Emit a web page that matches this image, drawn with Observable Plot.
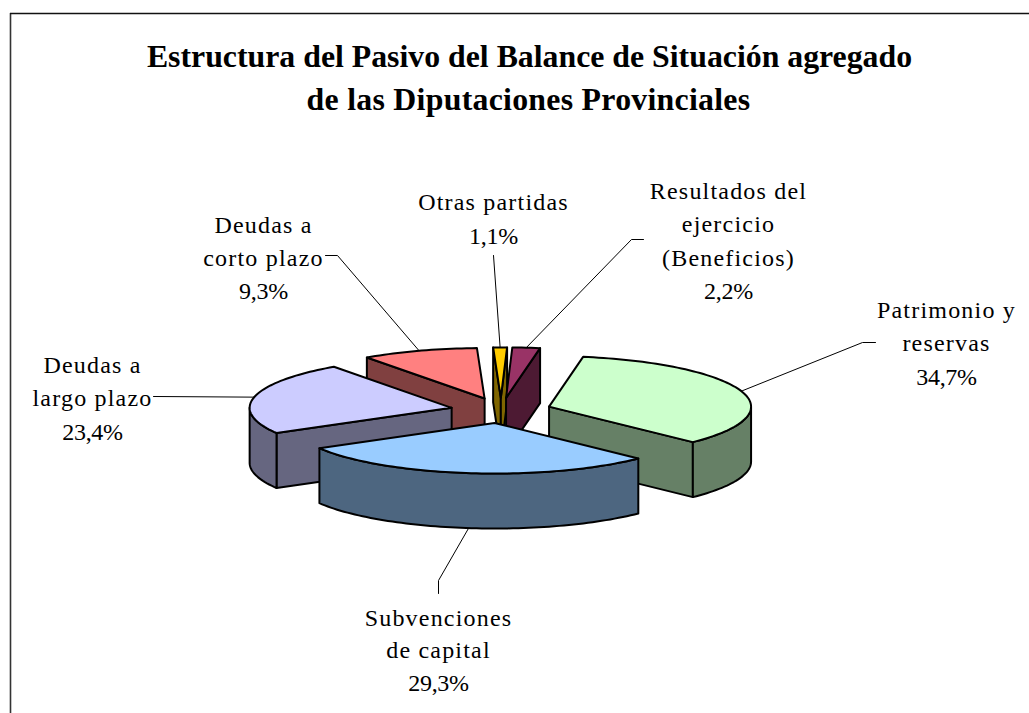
<!DOCTYPE html>
<html lang="es">
<head>
<meta charset="utf-8">
<script src="https://cdn.jsdelivr.net/npm/d3@7"></script>
<script src="https://cdn.jsdelivr.net/npm/@observablehq/plot@0.6"></script>
<style>
  html, body { margin: 0; padding: 0; background: #fff; }
  svg { display: block; }
  .word-label text { letter-spacing: 1.2px; }
  .share-label text { letter-spacing: -0.3px; }
  .title-second text { letter-spacing: 0.28px; }
</style>
</head>
<body>
<div id="chart"></div>
<script>
// ---- chart values, clockwise from the first slice
const categories = ["Patrimonio y reservas", "Subvenciones de capital", "Deudas a largo plazo",
                    "Deudas a corto plazo", "Otras partidas", "Resultados del ejercicio (Beneficios)"];
const shares = [34.7, 29.3, 23.4, 9.3, 1.1, 2.2];
const shareLabels = ["34,7%", "29,3%", "23,4%", "9,3%", "1,1%", "2,2%"];
const labelLines = [
  ["Patrimonio y", "reservas"],
  ["Subvenciones", "de capital"],
  ["Deudas a", "largo plazo"],
  ["Deudas a", "corto plazo"],
  ["Otras partidas"],
  ["Resultados del", "ejercicio", "(Beneficios)"]
];
const titleLines = ["Estructura del Pasivo del Balance de Situación agregado",
                    "de las Diputaciones Provinciales"];

// ---- styles
const topColors  = ["#CCFFCC", "#99CCFF", "#CCCCFF", "#FF8080", "#FFCC00", "#993366"];
const wallColors = ["#668066", "#4D6680", "#666680", "#804040", "#806600", "#4D1A33"];

// ---- layout of the tilted, exploded pie
const W = 1029, H = 713;
const pie = {cx: 500.5, cy: 410, rx: 202, ry: 50.5, depth: 55, explode: 0.25, start: 9.7};
// label centre x, first baseline y, line step; leader elbow(s) going out from the rim
const labelPlace = [
  {x: 946, y: 317, step: 33.5, elbow: [[862, 342], [875, 342]]},
  {x: 438, y: 625, step: 32.5, elbow: [[438, 580], [438, 593]]},
  {x: 92,  y: 372, step: 33.5, elbow: [[153, 396]]},
  {x: 263, y: 232, step: 33,   elbow: [[337, 255], [325, 255]]},
  {x: 493, y: 209, step: 34,   elbow: [[493, 255]]},
  {x: 728, y: 198, step: 33.5, elbow: [[631, 239], [643, 239]]}
];
const titlePlace = [{x: 529, y: 66}, {x: 528, y: 109}];

// ---- slice geometry derived from the shares
const rad = d => d * Math.PI / 180;
let running = pie.start;
const slices = categories.map((name, i) => {
  const a = running, b = running + shares[i] * 3.6;
  running = b;
  const mid = (a + b) / 2;
  return {
    i, name, a, b, mid,
    ox: pie.cx + pie.explode * pie.rx * Math.sin(rad(mid)),
    oy: pie.cy - pie.explode * pie.ry * Math.cos(rad(mid))
  };
});
const rim = (s, t, drop = 0) => ({
  x: s.ox + pie.rx * Math.sin(rad(t)),
  y: s.oy - pie.ry * Math.cos(rad(t)) + drop
});
const arc = (s, t0, t1, drop = 0) => {
  const n = Math.max(2, Math.ceil(Math.abs(t1 - t0) / 1.5));
  return d3.range(n + 1).map(k => rim(s, t0 + (t1 - t0) * k / n, drop));
};
const close = pts => [...pts, pts[0]];
const cutFace = (s, t) => close([
  {x: s.ox, y: s.oy}, rim(s, t), rim(s, t, pie.depth), {x: s.ox, y: s.oy + pie.depth}
]);

const outline = {stroke: "#000", strokeWidth: 2, strokeLinejoin: "round", strokeLinecap: "round", x: "x", y: "y"};
const sliceMarks = [];
[...slices].sort((p, q) => Math.cos(rad(q.mid)) - Math.cos(rad(p.mid))).forEach(s => {
  const wall = wallColors[s.i];
  const sinA = Math.sin(rad(s.a)), sinB = Math.sin(rad(s.b));
  if (sinA < 0) sliceMarks.push(Plot.line(cutFace(s, s.a), {...outline, fill: wall}));
  if (sinB > 0) sliceMarks.push(Plot.line(cutFace(s, s.b), {...outline, fill: wall}));
  const t0 = Math.max(s.a, 90), t1 = Math.min(s.b, 270);
  if (t1 > t0) {
    sliceMarks.push(Plot.line(
      close([...arc(s, t0, t1), ...arc(s, t1, t0, pie.depth)]),
      {...outline, fill: wall}));
  }
  sliceMarks.push(Plot.line(
    close([{x: s.ox, y: s.oy}, ...arc(s, s.a, s.b)]),
    {...outline, fill: topColors[s.i]}));
});

// ---- leader lines start at the middle of each slice's rim
const leaderMarks = slices.map(s => {
  const front = s.mid > 90 && s.mid < 270;
  const start = rim(s, s.mid, front ? pie.depth : 0);
  const pts = [start, ...labelPlace[s.i].elbow.map(([x, y]) => ({x, y}))];
  return Plot.line(pts, {x: "x", y: "y", stroke: "#000", strokeWidth: 1, strokeLinejoin: "miter"});
});

// ---- text rows
const baselineShift = 7.5;
const wordRows = [], shareRows = [];
slices.forEach(s => {
  const p = labelPlace[s.i];
  labelLines[s.i].forEach((text, k) => wordRows.push({text, x: p.x, y: p.y + k * p.step - baselineShift}));
  shareRows.push({text: shareLabels[s.i], x: p.x, y: p.y + labelLines[s.i].length * p.step - baselineShift});
});
const titleRows = titleLines.map((text, k) => ({text, x: titlePlace[k].x, y: titlePlace[k].y - 10}));

const serif = "'Liberation Serif', 'Times New Roman', serif";
const titleStyle = {x: "x", y: "y", text: "text", fontFamily: serif, fontSize: 31.8, fontWeight: "bold", fill: "#000",
  textAnchor: "middle", lineAnchor: "middle"};
const plot = Plot.plot({
  width: W, height: H,
  margin: 0,
  style: {background: "#fff", overflow: "visible"},
  x: {domain: [0, W], range: [0, W], axis: null},
  y: {domain: [0, H], range: [0, H], axis: null},
  marks: [
    Plot.ruleX([10], {y1: 13, y2: H, stroke: "#333", strokeWidth: 1.6}),
    Plot.ruleY([13], {x1: 10, x2: W, stroke: "#111", strokeWidth: 1.4}),
    ...sliceMarks,
    ...leaderMarks,
    Plot.text(wordRows, {x: "x", y: "y", text: "text", fontFamily: serif, fontSize: 24, fill: "#000",
      textAnchor: "middle", lineAnchor: "middle", className: "word-label"}),
    Plot.text(shareRows, {x: "x", y: "y", text: "text", fontFamily: serif, fontSize: 24, fill: "#000",
      textAnchor: "middle", lineAnchor: "middle", className: "share-label"}),
    Plot.text(titleRows.slice(0, 1), titleStyle),
    Plot.text(titleRows.slice(1), {...titleStyle, className: "title-second"})
  ]
});
document.getElementById("chart").append(plot);
</script>
</body>
</html>
